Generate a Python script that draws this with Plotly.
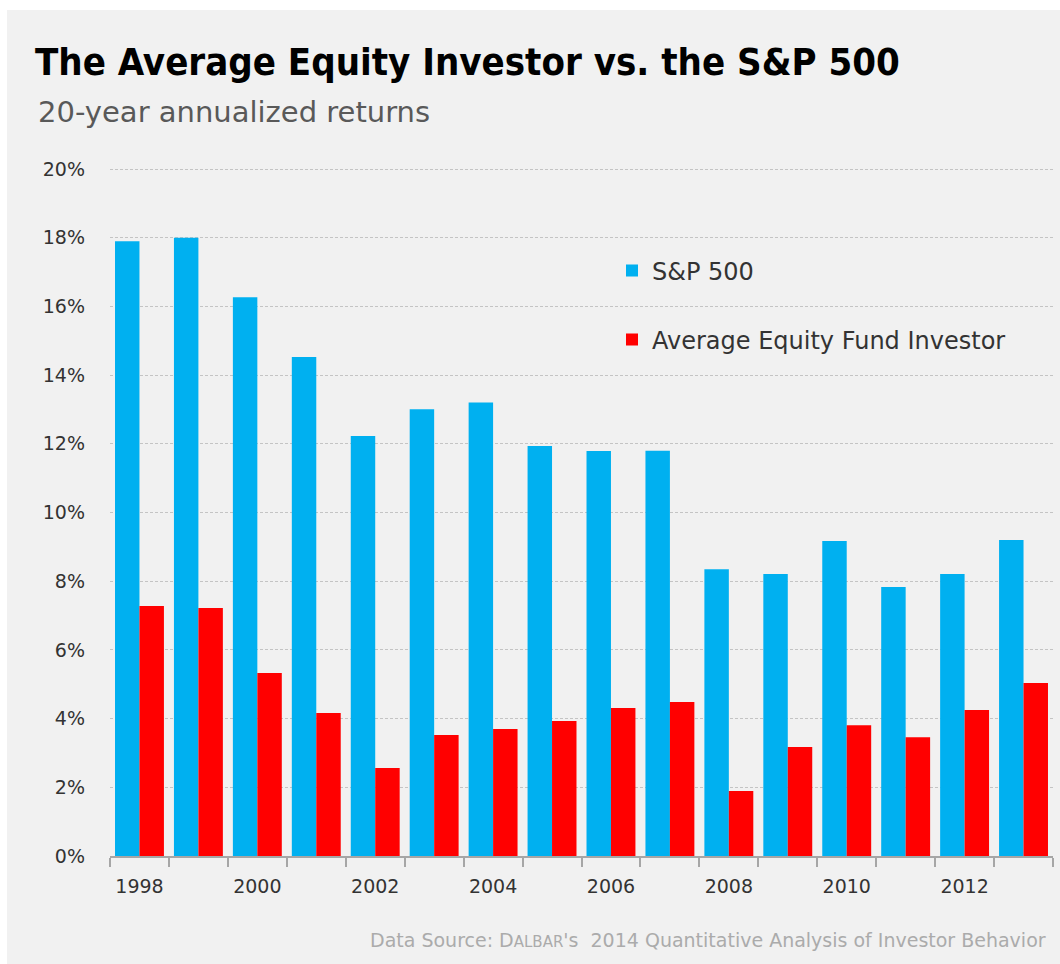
import plotly.graph_objects as go

years = list(range(1998, 2014))
sp500 = [17.9, 18.0, 16.27, 14.53, 12.23, 13.01, 13.2, 11.94, 11.79, 11.8, 8.35, 8.21, 9.17, 7.83, 8.21, 9.2]
investor = [7.28, 7.22, 5.33, 4.16, 2.56, 3.52, 3.70, 3.93, 4.31, 4.48, 1.89, 3.17, 3.81, 3.46, 4.25, 5.04]
x_tick_years = [1998, 2000, 2002, 2004, 2006, 2008, 2010, 2012]
y_ticks = [0, 2, 4, 6, 8, 10, 12, 14, 16, 18, 20]
y_tick_labels = [f"{v}%" for v in y_ticks]

FONT = "DejaVu Sans"
W, H = 1060, 964
ML, MR, MT, MB = 110, 7, 168, 108
PW, PH = W - ML - MR, H - MT - MB

def px_x(p):
    return (p - ML) / PW

def px_y(p):
    return (H - MB - p) / PH

fig = go.Figure()
fig.add_trace(go.Bar(x=years, y=sp500, name="S&P 500", marker=dict(color="#00b0f0", line=dict(width=0)),
                     legend="legend"))
fig.add_trace(go.Bar(x=years, y=investor, name="Average Equity Fund Investor",
                     marker=dict(color="#ff0000", line=dict(width=0)), legend="legend2"))

fig.update_layout(
    width=W, height=H,
    margin=dict(l=ML, r=MR, t=MT, b=MB),
    paper_bgcolor="#ffffff",
    plot_bgcolor="rgba(0,0,0,0)",
    barmode="group", bargap=0.17, bargroupgap=0,
    font=dict(family=FONT, color="#333333"),
    xaxis=dict(
        range=[1997.5, 2013.5], tickmode="array", tickvals=x_tick_years,
        ticktext=[str(y) for y in x_tick_years], ticks="", showgrid=False,
        showline=True, linecolor="#a6a6a6", linewidth=1.5,
        tickfont=dict(size=19, color="#333333"),
        minor=dict(ticks="outside", tick0=1997.5, dtick=1, ticklen=9, tickcolor="#a6a6a6",
                   tickwidth=1.5, showgrid=False),
        ticklabelstandoff=12,
        zeroline=False, fixedrange=True,
    ),
    yaxis=dict(
        range=[0, 20.03], tickmode="array", tickvals=y_ticks, ticktext=y_tick_labels,
        showgrid=True, gridcolor="#c4c4c4", gridwidth=1, griddash="3px,2px",
        zeroline=False, showline=False, ticks="",
        tickfont=dict(size=19, color="#333333"), ticklabelstandoff=24,
        fixedrange=True,
    ),
    legend=dict(x=px_x(612), y=px_y(271), xanchor="left", yanchor="middle",
                bgcolor="rgba(0,0,0,0)", font=dict(size=24, color="#333333", family=FONT)),
    legend2=dict(x=px_x(612), y=px_y(340), xanchor="left", yanchor="middle",
                 bgcolor="rgba(0,0,0,0)", font=dict(size=24, color="#333333", family=FONT)),
    showlegend=True,
)

# gray background panel
fig.add_shape(type="rect", xref="paper", yref="paper",
              x0=px_x(7), x1=px_x(W + 5), y0=px_y(H + 5), y1=px_y(10),
              fillcolor="#f1f1f1", line=dict(width=0), layer="below")

fig.add_annotation(text="<b>The Average Equity Investor vs. the S&P 500</b>", xref="paper", yref="paper",
                   x=px_x(33), y=px_y(62), xanchor="left", yanchor="middle", showarrow=False,
                   font=dict(size=38, color="#000000", family="DejaVu Sans Condensed, " + FONT))
fig.add_annotation(text="20-year annualized returns", xref="paper", yref="paper",
                   x=px_x(36), y=px_y(112), xanchor="left", yanchor="middle", showarrow=False,
                   font=dict(size=29, color="#595959", family=FONT))
fig.add_annotation(text="Data Source: D<span style='font-size:15px'>ALBAR</span>'s  2014 Quantitative Analysis of Investor Behavior",
                   xref="paper", yref="paper",
                   x=px_x(1048), y=px_y(940), xanchor="right", yanchor="middle", showarrow=False,
                   font=dict(size=19, color="#ababab", family=FONT))

fig.write_html("out.html", config={"displayModeBar": False},
               post_script="document.body.style.margin='0';document.body.style.overflow='hidden';")
